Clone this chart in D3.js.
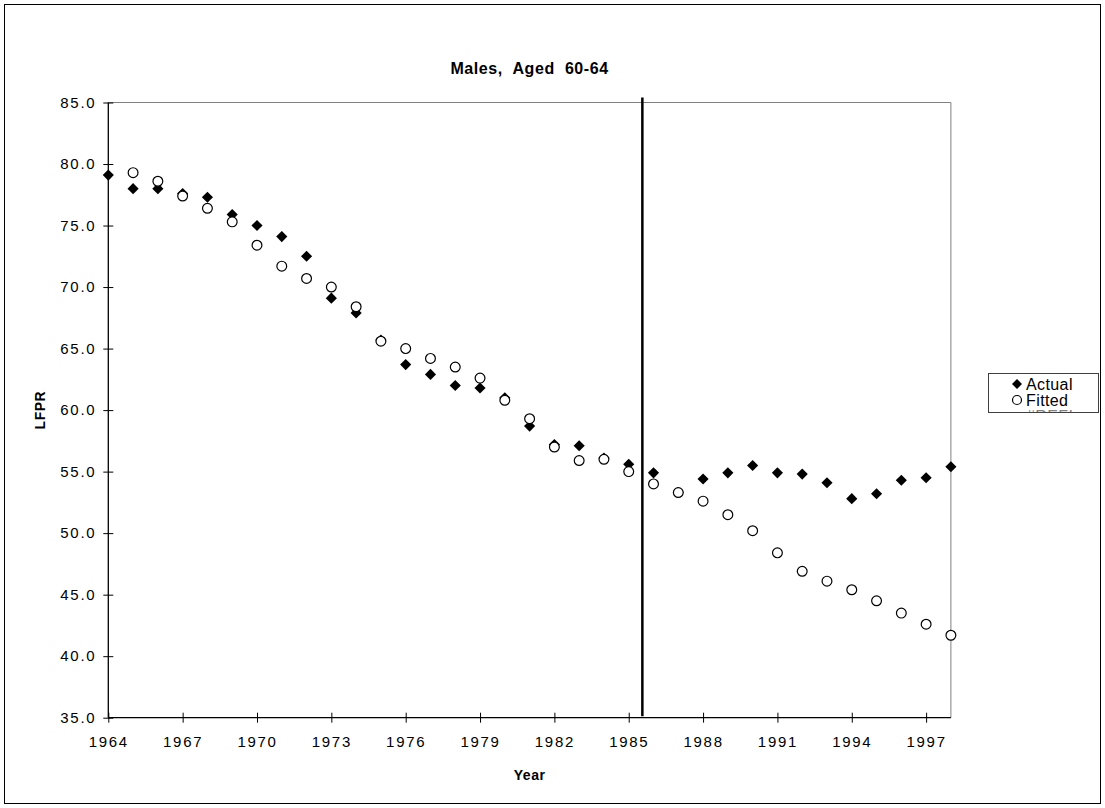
<!DOCTYPE html>
<html>
<head>
<meta charset="utf-8">
<script src="https://cdn.jsdelivr.net/npm/d3@7"></script>
<style>
  html, body { margin: 0; padding: 0; background: #fff; }
  svg { display: block; font-family: "Liberation Sans", Arial, sans-serif; }
</style>
</head>
<body>
<svg id="chart" width="1105" height="808"></svg>
<script>
// ---- data ----
const years = d3.range(1964, 1999);
const actual = [79.1, 78.0, 78.0, 77.6, 77.3, 75.9, 75.0, 74.1, 72.5, 69.1,
                67.9, 65.7, 63.7, 62.9, 62.0, 61.8, 61.0, 58.7, 57.2, 57.1,
                56.1, 55.6, 54.9, 53.3, 54.4, 54.9, 55.5, 54.9, 54.8, 54.1,
                52.8, 53.2, 54.3, 54.5, 55.4];
const fitted = [null, 79.3, 78.6, 77.4, 76.4, 75.3, 73.4, 71.7, 70.7, 70.0,
                68.4, 65.6, 65.0, 64.2, 63.5, 62.6, 60.8, 59.3, 57.0, 55.9,
                56.0, 55.0, 54.0, 53.3, 52.6, 51.5, 50.2, 48.4, 46.9, 46.1,
                45.4, 44.5, 43.5, 42.6, 41.7];
const xTicks = d3.range(1964, 1998, 3);
const yTicks = d3.range(35, 86, 5);
const breakYear = 1985.55;
const titleText = "Males,  Aged  60-64";
const xLabel = "Year";
const yLabel = "LFPR";
const legendNames = ["Actual", "Fitted", "#REF!"];

// ---- layout ----
const svg = d3.select("#chart");
const L = 108.3, R = 950.9, T = 102.5, B = 717.7;
const x = d3.scaleLinear().domain([1964, 1998]).range([L, R]);
const y = d3.scaleLinear().domain([35, 85]).range([B, T]);

// outer border
svg.append("rect").attr("x", 4.5).attr("y", 4.5).attr("width", 1096).attr("height", 799)
  .attr("fill", "none").attr("stroke", "#000").attr("stroke-width", 1);

// plot area border (gray top/right)
svg.append("path")
  .attr("d", `M${L},${T}H${R}V${B}`)
  .attr("fill", "none").attr("stroke", "#808080").attr("stroke-width", 1);

// axes
const xAxis = d3.axisBottom(x).tickValues(xTicks).tickFormat(d3.format("d"))
  .tickSizeInner(5).tickSizeOuter(0).tickPadding(14);
const gx = svg.append("g").attr("transform", `translate(0,${B})`).call(xAxis);
gx.selectAll(".tick line").attr("y1", -5).attr("y2", 5);
gx.select(".domain").attr("d", `M${L},0H${R}`).attr("stroke-width", 1.3);
gx.selectAll("text").attr("font-size", 15).attr("letter-spacing", 1.7).attr("fill", "#000")
  .attr("font-family", "Liberation Sans, Arial, sans-serif");

const yAxis = d3.axisLeft(y).tickValues(yTicks).tickFormat(d3.format(".1f"))
  .tickSizeInner(5).tickSizeOuter(0).tickPadding(7);
const gy = svg.append("g").attr("transform", `translate(${L},0)`).call(yAxis);
gy.selectAll(".tick line").attr("x1", -5).attr("x2", 5);
gy.select(".domain").attr("d", `M0,${B}V${T}`).attr("stroke-width", 1.3);
gy.selectAll("text").attr("font-size", 15).attr("letter-spacing", 1.7).attr("fill", "#000")
  .attr("font-family", "Liberation Sans, Arial, sans-serif");

// vertical break line
svg.append("line")
  .attr("x1", x(breakYear)).attr("x2", x(breakYear))
  .attr("y1", T - 5).attr("y2", B - 1.5)
  .attr("stroke", "#000").attr("stroke-width", 2.5);

// series
const diamond = d3.symbol().type(d3.symbolSquare).size(62);
const actualData = years.map((yr, i) => ({yr, v: actual[i]})).filter(d => d.v != null);
const fittedData = years.map((yr, i) => ({yr, v: fitted[i]})).filter(d => d.v != null);

svg.append("g").selectAll("path").data(actualData).join("path")
  .attr("d", diamond)
  .attr("transform", d => `translate(${x(d.yr)},${y(d.v)}) rotate(45)`)
  .attr("fill", "#000");

svg.append("g").selectAll("circle").data(fittedData).join("circle")
  .attr("cx", d => x(d.yr)).attr("cy", d => y(d.v)).attr("r", 4.9)
  .attr("fill", "#fff").attr("stroke", "#000").attr("stroke-width", 1.2);

// title and labels
svg.append("text").attr("x", (L + R) / 2).attr("y", 74).attr("text-anchor", "middle")
  .attr("font-size", 16).attr("font-weight", "bold").attr("letter-spacing", 0.6)
  .style("white-space", "pre").text(titleText);
svg.append("text").attr("x", (L + R) / 2).attr("y", 780).attr("text-anchor", "middle")
  .attr("font-size", 14).attr("font-weight", "bold").attr("letter-spacing", 0.5).text(xLabel);
svg.append("text").attr("transform", `translate(45,${(T + B) / 2}) rotate(-90)`)
  .attr("text-anchor", "middle").attr("font-size", 14).attr("font-weight", "bold")
  .attr("letter-spacing", 0.5).text(yLabel);

// legend
const lg = svg.append("g");
const LX = 988, LY = 373, LW = 110, LH = 39;
svg.append("defs").append("clipPath").attr("id", "legclip")
  .append("rect").attr("x", LX).attr("y", LY).attr("width", LW).attr("height", LH);
lg.append("rect").attr("x", LX + 0.5).attr("y", LY + 0.5).attr("width", LW).attr("height", LH)
  .attr("fill", "#fff").attr("stroke", "#404040").attr("stroke-width", 1);
const items = lg.append("g").attr("clip-path", "url(#legclip)");
const rowY = [384, 400, 416];
items.append("path").attr("d", d3.symbol().type(d3.symbolSquare).size(50))
  .attr("transform", `translate(1017,${rowY[0]}) rotate(45)`).attr("fill", "#000");
items.append("circle").attr("cx", 1017).attr("cy", rowY[1]).attr("r", 4.5)
  .attr("fill", "#fff").attr("stroke", "#000").attr("stroke-width", 1.2);
items.append("rect").attr("x", 1012).attr("y", rowY[2] - 4).attr("width", 9).attr("height", 8)
  .attr("fill", "#808080");
legendNames.forEach((n, i) => {
  items.append("text").attr("x", 1026).attr("y", rowY[i]).attr("dy", "0.35em")
    .attr("font-size", 16).attr("letter-spacing", 0.4).attr("fill", i === 2 ? "#808080" : "#000").text(n);
});
</script>
</body>
</html>
